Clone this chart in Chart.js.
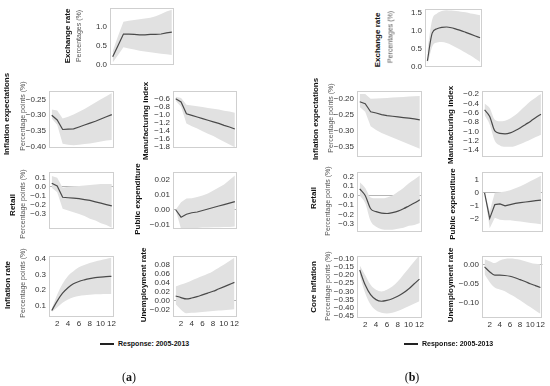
<!DOCTYPE html>
<html>
<head>
<meta charset="utf-8">
<script src="https://cdn.jsdelivr.net/npm/chart.js@4.4.1/dist/chart.umd.min.js"></script>
<style>
  body { margin: 0; background: #fff; }
  #lienzo { position: relative; width: 550px; height: 386px; overflow: hidden; font-family: "Liberation Sans", Arial, sans-serif; }
  #lienzo canvas { position: absolute; }
  .titulo { position: absolute; transform: translate(-50%, -50%) rotate(-90deg); white-space: nowrap; font-weight: bold; font-size: 8px; color: #111; }
  .unidad { position: absolute; transform: translate(-50%, -50%) rotate(-90deg); white-space: nowrap; font-size: 7px; color: #555; }
  .leyenda { position: absolute; font-size: 7px; font-weight: bold; color: #111; white-space: nowrap; }
  .leyenda span { display: inline-block; width: 14px; height: 2px; background: #222; vertical-align: middle; margin-right: 4px; }
  .letra { position: absolute; transform: translate(-50%, -50%); font-family: "Liberation Serif", serif; font-size: 12px; color: #111; }
</style>
</head>
<body>
<div id="lienzo"></div>
<script>
// Periodos (horizonte de la respuesta)
const periodos = [1, 2, 3, 4, 5, 6, 7, 8, 9, 10, 11, 12];
const ticksX = [2, 4, 6, 8, 10, 12];

// ---- (a) ----
const cambioA = [0.2, 0.5, 0.8, 0.8, 0.79, 0.78, 0.78, 0.79, 0.79, 0.8, 0.83, 0.85];
const cambioA_sup = [0.35, 0.75, 1.12, 1.15, 1.17, 1.19, 1.21, 1.23, 1.27, 1.33, 1.39, 1.44];
const cambioA_inf = [0.05, 0.25, 0.45, 0.42, 0.39, 0.36, 0.34, 0.32, 0.3, 0.28, 0.27, 0.25];
const cambioA_ticks = [0, 0.5, 1.0];

const expectA = [-0.30, -0.315, -0.345, -0.344, -0.343, -0.337, -0.331, -0.325, -0.319, -0.312, -0.305, -0.298];
const expectA_sup = [-0.282, -0.285, -0.31, -0.305, -0.298, -0.289, -0.28, -0.27, -0.26, -0.25, -0.24, -0.23];
const expectA_inf = [-0.31, -0.33, -0.39, -0.393, -0.395, -0.393, -0.391, -0.389, -0.386, -0.383, -0.38, -0.378];
const expectA_ticks = [-0.40, -0.35, -0.30, -0.25];

const manufA = [-0.6, -0.68, -0.98, -1.02, -1.06, -1.1, -1.14, -1.18, -1.22, -1.27, -1.31, -1.36];
const manufA_sup = [-0.55, -0.58, -0.75, -0.77, -0.79, -0.81, -0.83, -0.85, -0.87, -0.9, -0.92, -0.95];
const manufA_inf = [-0.65, -0.8, -1.22, -1.29, -1.35, -1.42, -1.48, -1.54, -1.61, -1.68, -1.75, -1.82];
const manufA_ticks = [-1.8, -1.6, -1.4, -1.2, -1.0, -0.8, -0.6];

const retailA = [0.04, 0.01, -0.115, -0.12, -0.125, -0.13, -0.14, -0.15, -0.165, -0.18, -0.195, -0.21];
const retailA_sup = [0.12, 0.1, -0.01, 0.0, 0.005, 0.01, 0.015, 0.02, 0.025, 0.03, 0.03, 0.03];
const retailA_inf = [-0.01, -0.06, -0.24, -0.26, -0.28, -0.3, -0.32, -0.35, -0.37, -0.4, -0.42, -0.45];
const retailA_ticks = [-0.3, -0.2, -0.1, 0, 0.1];

const gastoA = [0.0, -0.005, -0.003, -0.002, -0.0015, -0.0005, 0.0005, 0.0015, 0.0025, 0.0035, 0.0045, 0.0055];
const gastoA_sup = [0.0, 0.005, 0.0075, 0.0078, 0.0085, 0.0095, 0.011, 0.013, 0.015, 0.017, 0.02, 0.023];
const gastoA_inf = [0.0, -0.013, -0.0128, -0.0125, -0.0122, -0.012, -0.012, -0.0118, -0.0117, -0.0116, -0.0115, -0.0113];
const gastoA_ticks = [-0.01, 0, 0.01, 0.02];

const inflA = [0.07, 0.13, 0.18, 0.215, 0.24, 0.255, 0.265, 0.273, 0.279, 0.283, 0.286, 0.287];
const inflA_sup = [0.08, 0.17, 0.24, 0.29, 0.32, 0.345, 0.36, 0.372, 0.382, 0.39, 0.398, 0.405];
const inflA_inf = [0.06, 0.09, 0.12, 0.14, 0.155, 0.163, 0.168, 0.171, 0.173, 0.174, 0.175, 0.175];
const inflA_ticks = [0.1, 0.2, 0.3, 0.4];

const desempA = [0.0105, 0.007, 0.004, 0.006, 0.009, 0.013, 0.017, 0.021, 0.026, 0.031, 0.036, 0.041];
const desempA_sup = [0.032, 0.036, 0.04, 0.045, 0.05, 0.055, 0.06, 0.066, 0.073, 0.08, 0.088, 0.096];
const desempA_inf = [-0.008, -0.02, -0.028, -0.027, -0.026, -0.025, -0.024, -0.023, -0.022, -0.021, -0.02, -0.019];
const desempA_ticks = [-0.02, 0, 0.02, 0.04, 0.06, 0.08];

// ---- (b) ----
const cambioB = [0.15, 0.93, 1.05, 1.09, 1.1, 1.08, 1.04, 1.0, 0.95, 0.9, 0.85, 0.8];
const cambioB_sup = [0.45, 1.3, 1.48, 1.55, 1.57, 1.56, 1.55, 1.53, 1.51, 1.48, 1.46, 1.43];
const cambioB_inf = [0.03, 0.55, 0.67, 0.68, 0.65, 0.6, 0.53, 0.46, 0.38, 0.3, 0.21, 0.12];
const cambioB_ticks = [0, 0.5, 1.0, 1.5];

const expectB = [-0.209, -0.215, -0.24, -0.244, -0.249, -0.252, -0.254, -0.256, -0.258, -0.26, -0.262, -0.265];
const expectB_sup = [-0.185, -0.185, -0.2, -0.199, -0.198, -0.197, -0.196, -0.195, -0.194, -0.193, -0.192, -0.191];
const expectB_inf = [-0.225, -0.24, -0.285, -0.297, -0.306, -0.313, -0.32, -0.327, -0.334, -0.341, -0.348, -0.355];
const expectB_ticks = [-0.35, -0.30, -0.25, -0.20];

const manufB = [-0.54, -0.68, -0.99, -1.04, -1.05, -1.03, -0.98, -0.92, -0.85, -0.78, -0.7, -0.63];
const manufB_sup = [-0.4, -0.5, -0.75, -0.78, -0.77, -0.72, -0.65, -0.55, -0.45, -0.35, -0.27, -0.2];
const manufB_inf = [-0.65, -0.85, -1.2, -1.3, -1.33, -1.33, -1.31, -1.27, -1.22, -1.17, -1.12, -1.07];
const manufB_ticks = [-1.4, -1.2, -1.0, -0.8, -0.6, -0.4, -0.2];

const retailB = [0.07, 0.0, -0.14, -0.17, -0.185, -0.19, -0.18, -0.165, -0.14, -0.11, -0.08, -0.045];
const retailB_sup = [0.14, 0.08, -0.02, -0.03, -0.03, -0.02, 0.0, 0.04, 0.08, 0.13, 0.17, 0.21];
const retailB_inf = [0.0, -0.08, -0.27, -0.33, -0.355, -0.36, -0.36, -0.35, -0.34, -0.32, -0.31, -0.29];
const retailB_ticks = [-0.3, -0.2, -0.1, 0, 0.1, 0.2];

const gastoB = [0, -1.95, -0.9, -0.85, -1.0, -0.9, -0.8, -0.75, -0.7, -0.65, -0.6, -0.55];
const gastoB_sup = [0, -1.4, 0.0, 0.05, 0.1, 0.2, 0.35, 0.5, 0.7, 0.9, 1.1, 1.3];
const gastoB_inf = [0, -2.7, -1.9, -2.05, -2.1, -2.1, -2.15, -2.2, -2.25, -2.3, -2.35, -2.4];
const gastoB_ticks = [-2, -1, 0, 1];

const coreB = [-0.17, -0.26, -0.32, -0.35, -0.36, -0.355, -0.345, -0.33, -0.31, -0.285, -0.255, -0.225];
const coreB_sup = [-0.14, -0.2, -0.26, -0.29, -0.3, -0.29, -0.27, -0.24, -0.2, -0.16, -0.12, -0.08];
const coreB_inf = [-0.2, -0.31, -0.38, -0.415, -0.43, -0.435, -0.43, -0.42, -0.405, -0.39, -0.375, -0.36];
const coreB_ticks = [-0.45, -0.40, -0.35, -0.30, -0.25, -0.20, -0.15, -0.10];

const desempB = [-0.005, -0.018, -0.027, -0.027, -0.028, -0.03, -0.034, -0.039, -0.044, -0.05, -0.055, -0.06];
const desempB_sup = [0.015, 0.01, 0.005, 0.012, 0.016, 0.017, 0.016, 0.014, 0.01, 0.006, 0.003, 0.002];
const desempB_inf = [-0.025, -0.045, -0.06, -0.065, -0.07, -0.078, -0.085, -0.094, -0.103, -0.112, -0.121, -0.13];
const desempB_ticks = [-0.10, -0.05, 0];

const EJE_Y = 42;   // ancho reservado para las etiquetas del eje Y
const PAD = 4;
const lienzo = document.getElementById('lienzo');

Chart.defaults.font.family = '"Liberation Sans", Arial, sans-serif';
Chart.defaults.font.size = 8;
Chart.defaults.color = '#333';

// Marco gris alrededor del area del grafico
const marco = {
    id: 'marco',
    afterDraw(chart) {
        const a = chart.chartArea;
        const ctx = chart.ctx;
        ctx.save();
        ctx.strokeStyle = '#cfcfcf';
        ctx.lineWidth = 1;
        ctx.strokeRect(Math.round(a.left) + 0.5, Math.round(a.top) + 0.5, Math.round(a.right - a.left) - 1, Math.round(a.bottom - a.top) - 1);
        ctx.restore();
    }
};

function formatear(v, dec) {
    const s = Math.abs(v).toFixed(dec);
    return (v < -1e-9 ? '\u2212' : '') + s;
}

function puntos(arr) {
    return periodos.map((p, i) => ({ x: p, y: arr[i] }));
}

function crearPanel(cfg) {
    const [L, T, W, H] = cfg.caja;
    const abajo = cfg.ejeX ? 16 : PAD;
    const canvas = document.createElement('canvas');
    canvas.width = W + EJE_Y + PAD;
    canvas.height = H + PAD + abajo;
    canvas.style.left = (L - EJE_Y) + 'px';
    canvas.style.top = (T - PAD) + 'px';
    canvas.style.width = canvas.width + 'px';
    canvas.style.height = canvas.height + 'px';
    lienzo.appendChild(canvas);

    new Chart(canvas.getContext('2d'), {
        type: 'line',
        data: {
            datasets: [
                { data: puntos(cfg.media), borderColor: '#4a4a4a', borderWidth: 1.2, pointRadius: 0, tension: cfg.suave ? 0.4 : 0, cubicInterpolationMode: cfg.suave ? 'monotone' : 'default', fill: false },
                { data: puntos(cfg.sup), borderWidth: 0, borderColor: 'rgba(0,0,0,0)', pointRadius: 0, tension: cfg.suave ? 0.4 : 0, cubicInterpolationMode: cfg.suave ? 'monotone' : 'default', fill: '+1', backgroundColor: '#e1e1e1' },
                { data: puntos(cfg.inf), borderWidth: 0, borderColor: 'rgba(0,0,0,0)', pointRadius: 0, tension: cfg.suave ? 0.4 : 0, cubicInterpolationMode: cfg.suave ? 'monotone' : 'default', fill: false }
            ]
        },
        options: {
            responsive: false,
            animation: false,
            events: [],
            layout: { padding: { top: PAD, right: PAD, bottom: abajo === PAD ? PAD : 0, left: 0 } },
            plugins: { legend: { display: false }, tooltip: { enabled: false } },
            scales: {
                x: {
                    type: 'linear',
                    min: 0.5,
                    max: 12.4,
                    grid: { display: false, drawTicks: false },
                    border: { display: false },
                    ticks: { display: !!cfg.ejeX, autoSkip: false, maxRotation: 0, padding: 2, color: '#333', font: { size: 8 } },
                    afterBuildTicks: (s) => { s.ticks = ticksX.map(v => ({ value: v })); },
                    afterFit: (s) => { s.height = cfg.ejeX ? 16 : 0; }
                },
                y: {
                    type: 'linear',
                    min: cfg.rango[0],
                    max: cfg.rango[1],
                    z: 1,
                    grid: {
                        display: !!cfg.cero,
                        drawTicks: false,
                        lineWidth: 1,
                        color: (c) => (c.tick && Math.abs(c.tick.value) < 1e-12) ? '#b5b5b5' : 'rgba(0,0,0,0)'
                    },
                    border: { display: false },
                    ticks: { autoSkip: false, padding: 3, color: '#333', font: { size: 8 }, callback: (v) => formatear(v, cfg.dec) },
                    afterBuildTicks: (s) => { s.ticks = cfg.ticks.map(v => ({ value: v })); },
                    afterFit: (s) => { s.width = EJE_Y; }
                }
            }
        },
        plugins: [marco]
    });
}

function texto(clase, txt, x, y) {
    const d = document.createElement('div');
    d.className = clase;
    d.textContent = txt;
    d.style.left = x + 'px';
    d.style.top = y + 'px';
    lienzo.appendChild(d);
}

// Paneles (a)
crearPanel({ caja: [110, 4, 64, 65], rango: [-0.02, 1.49], ticks: cambioA_ticks, dec: 1, media: cambioA, sup: cambioA_sup, inf: cambioA_inf });
crearPanel({ caja: [49, 87, 65, 65], rango: [-0.404, -0.223], ticks: expectA_ticks, dec: 2, media: expectA, sup: expectA_sup, inf: expectA_inf });
crearPanel({ caja: [173, 87, 64, 65], rango: [-1.844, -0.40], ticks: manufA_ticks, dec: 1, media: manufA, sup: manufA_sup, inf: manufA_inf });
crearPanel({ caja: [49, 168, 65, 65], rango: [-0.466, 0.165], ticks: retailA_ticks, dec: 1, media: retailA, sup: retailA_sup, inf: retailA_inf, cero: true });
crearPanel({ caja: [173, 168, 64, 65], rango: [-0.01306, 0.0255], ticks: gastoA_ticks, dec: 2, media: gastoA, sup: gastoA_sup, inf: gastoA_inf, cero: true });
crearPanel({ caja: [49, 252, 65, 65], rango: [0.029, 0.418], ticks: inflA_ticks, dec: 1, media: inflA, sup: inflA_sup, inf: inflA_inf, ejeX: true, suave: true });
crearPanel({ caja: [173, 252, 64, 65], rango: [-0.0363, 0.1002], ticks: desempA_ticks, dec: 2, media: desempA, sup: desempA_sup, inf: desempA_inf, ejeX: true, cero: true, suave: true });

// Paneles (b)
crearPanel({ caja: [425, 5, 57, 66], rango: [-0.025, 1.61], ticks: cambioB_ticks, dec: 1, media: cambioB, sup: cambioB_sup, inf: cambioB_inf, suave: true });
crearPanel({ caja: [357, 87, 65, 74], rango: [-0.381, -0.175], ticks: expectB_ticks, dec: 2, media: expectB, sup: expectB_sup, inf: expectB_inf });
crearPanel({ caja: [482, 87, 61, 74], rango: [-1.552, -0.129], ticks: manufB_ticks, dec: 1, media: manufB, sup: manufB_sup, inf: manufB_inf, suave: true });
crearPanel({ caja: [357, 168, 65, 68], rango: [-0.387, 0.25], ticks: retailB_ticks, dec: 1, media: retailB, sup: retailB_sup, inf: retailB_inf, cero: true, suave: true });
crearPanel({ caja: [482, 168, 61, 68], rango: [-3.01, 1.61], ticks: gastoB_ticks, dec: 0, media: gastoB, sup: gastoB_sup, inf: gastoB_inf, cero: true });
crearPanel({ caja: [357, 252, 65, 66], rango: [-0.462, -0.083], ticks: coreB_ticks, dec: 2, media: coreB, sup: coreB_sup, inf: coreB_inf, ejeX: true, suave: true });
crearPanel({ caja: [482, 252, 61, 66], rango: [-0.141, 0.0243], ticks: desempB_ticks, dec: 2, media: desempB, sup: desempB_sup, inf: desempB_inf, ejeX: true, cero: true, suave: true });

// Titulos de los ejes (a)
texto('titulo', 'Exchange rate', 67, 36);
texto('unidad', 'Percentages (%)', 78, 36);
texto('titulo', 'Inflation expectations', 6, 114);
texto('unidad', 'Percentage points (%)', 22, 116);
texto('titulo', 'Manufacturing index', 145, 121);
texto('titulo', 'Retail', 12, 205);
texto('unidad', 'Percentage points (%)', 22, 204);
texto('titulo', 'Public expenditure', 137, 199);
texto('titulo', 'Inflation  rate', 7, 285);
texto('unidad', 'Percentage points (%)', 22, 283);
texto('titulo', 'Unemployment rate', 143, 285);

// Titulos de los ejes (b)
texto('titulo', 'Exchange rate', 377, 40);
texto('unidad', 'Percentages (%)', 390, 37);
texto('titulo', 'Inflation expectations', 315, 119);
texto('unidad', 'Percentage points (%)', 330, 118);
texto('titulo', 'Manufacturing index', 450, 125);
texto('titulo', 'Retail', 313, 198);
texto('unidad', 'Percentage points (%)', 327, 201);
texto('titulo', 'Public expenditure', 452, 204);
texto('titulo', 'Core inflation', 313, 287);
texto('unidad', 'Percentage points (%)', 327, 286);
texto('titulo', 'Unemployment rate', 450, 285);

// Leyendas y letras
const leyA = document.createElement('div');
leyA.className = 'leyenda';
leyA.innerHTML = '<span></span>Response: 2005-2013';
leyA.style.left = '100px';
leyA.style.top = '340px';
lienzo.appendChild(leyA);
const leyB = document.createElement('div');
leyB.className = 'leyenda';
leyB.innerHTML = '<span></span>Response: 2005-2013';
leyB.style.left = '404px';
leyB.style.top = '340px';
lienzo.appendChild(leyB);

const a = document.createElement('div');
a.className = 'letra';
a.innerHTML = '(<b>a</b>)';
a.style.left = '129px';
a.style.top = '377px';
lienzo.appendChild(a);
const b = document.createElement('div');
b.className = 'letra';
b.innerHTML = '(<b>b</b>)';
b.style.left = '412px';
b.style.top = '377px';
lienzo.appendChild(b);
</script>
</body>
</html>
